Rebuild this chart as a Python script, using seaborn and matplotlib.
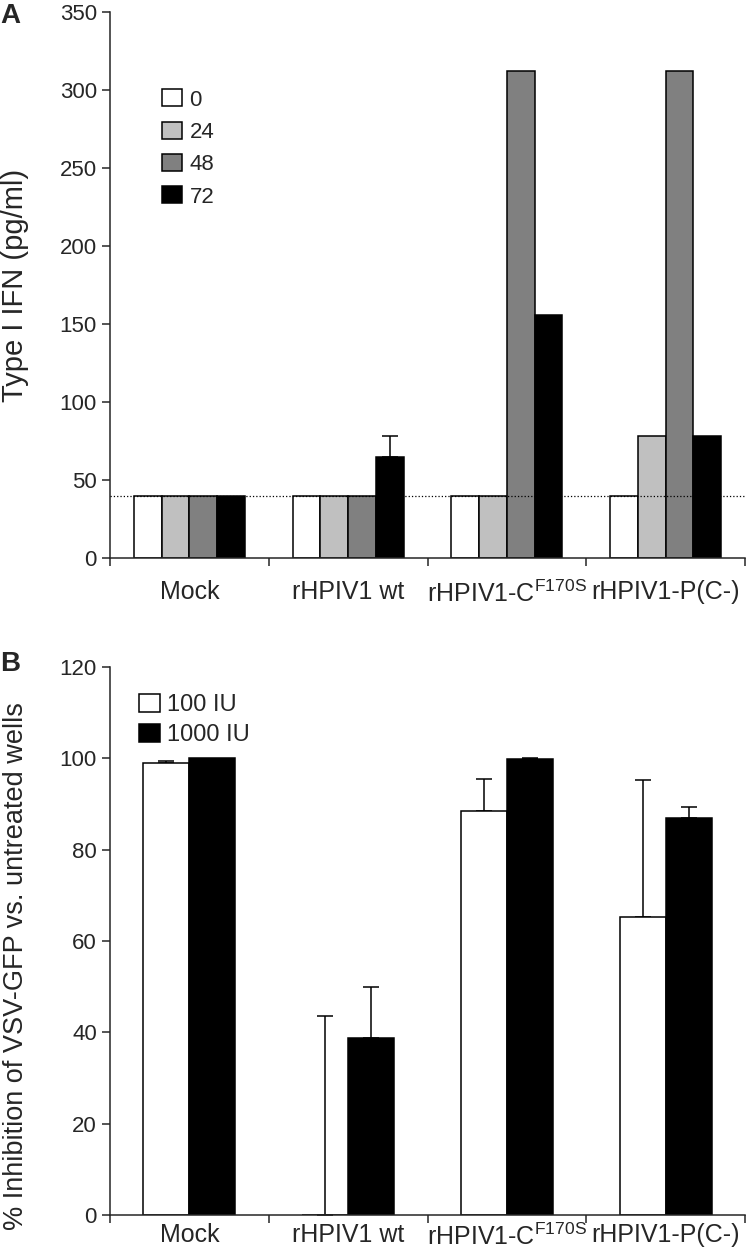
# ==============================
# Type I IFN (A) and VSV-GFP inhibition (B)
# ==============================
import numpy as np
import pandas as pd
import seaborn as sns
import matplotlib.pyplot as plt

sns.set_style("ticks")
plt.rcParams["font.family"] = ["Liberation Sans", "DejaVu Sans"]
plt.rcParams["mathtext.default"] = "regular"

# ------------------------------
# data
# ------------------------------
groups = ["Mock", "rHPIV1 wt", "rHPIV1-C$^{F170S}$", "rHPIV1-P(C-)"]

hours = ["0", "24", "48", "72"]
ifn_0 = [40, 40, 40, 40]
ifn_24 = [40, 40, 40, 78]
ifn_48 = [40, 40, 312, 312]
ifn_72 = [40, 65, 156, 78]
ifn_72_err = [0, 13, 0, 0]
ifn_limit = 40

doses = ["100 IU", "1000 IU"]
inhib_100 = [99.0, 0.0, 88.5, 65.3]
inhib_100_err = [0.5, 43.5, 7.0, 30.0]
inhib_1000 = [100.0, 38.8, 99.9, 87.0]
inhib_1000_err = [0.0, 11.2, 0.1, 2.3]

df_a = pd.DataFrame({
    "group": groups * 4,
    "hour": np.repeat(hours, len(groups)),
    "ifn": ifn_0 + ifn_24 + ifn_48 + ifn_72,
})
df_b = pd.DataFrame({
    "group": groups * 2,
    "dose": np.repeat(doses, len(groups)),
    "inhib": inhib_100 + inhib_1000,
})

fig = plt.figure(figsize=(7.5, 12.57), dpi=100)
axA = fig.add_axes([0.1467, 0.556, 0.8466, 0.4345])
axB = fig.add_axes([0.1467, 0.0335, 0.8466, 0.4359])


def add_err(ax, container, errs):
    for bar, e in zip(container, errs):
        if e <= 0:
            continue
        ax.errorbar(bar.get_x() + bar.get_width() / 2, bar.get_height(),
                    yerr=[[0], [e]], fmt="none", ecolor="black",
                    elinewidth=1.1, capsize=6, capthick=1.1, zorder=1)


def style_axis(ax, ymax, ystep, pad):
    ax.set_xlim(-0.5, len(groups) - 0.5)
    ax.set_ylim(0, ymax)
    ax.set_yticks(np.arange(0, ymax + 1, ystep))
    ax.set_xticks(range(len(groups)))
    ax.set_xticks(np.arange(-0.5, len(groups), 1), minor=True)
    ax.set_xticklabels(groups, fontsize=18)
    ax.tick_params(axis="x", which="major", length=0, pad=pad)
    ax.tick_params(axis="x", which="minor", length=6, width=1.1)
    ax.tick_params(axis="y", length=6, width=1.1, labelsize=16)
    ax.set_xlabel("")
    for s in ["left", "bottom"]:
        ax.spines[s].set_linewidth(1.1)
    sns.despine(ax=ax)


# ==============================
# PANEL A
# ==============================
sns.barplot(data=df_a, x="group", y="ifn", hue="hour",
            palette=["white", "#c0c0c0", "#808080", "black"],
            width=0.7, gap=0, edgecolor="black", linewidth=1.1,
            errorbar=None, ax=axA, zorder=2)
add_err(axA, axA.containers[3], ifn_72_err)
axA.axhline(ifn_limit, ls=":", lw=0.9, color="black", zorder=3, clip_on=False)
style_axis(axA, 350, 50, pad=16)
axA.set_ylabel("Type I IFN (pg/ml)", fontsize=21)
axA.yaxis.set_label_coords(-0.128, 0.5)
handles, labels = axA.get_legend_handles_labels()
axA.legend(handles, labels, loc="upper left", bbox_to_anchor=(0.05, 0.895),
           frameon=False, fontsize=16, handlelength=0.9, handleheight=0.8,
           handletextpad=0.35, labelspacing=0.5)

# ==============================
# PANEL B
# ==============================
sns.barplot(data=df_b, x="group", y="inhib", hue="dose",
            palette=["white", "black"],
            width=0.58, gap=0, edgecolor="black", linewidth=1.1,
            errorbar=None, ax=axB, zorder=2)
add_err(axB, axB.containers[0], inhib_100_err)
add_err(axB, axB.containers[1], inhib_1000_err)
style_axis(axB, 120, 20, pad=6)
axB.set_ylabel("% Inhibition of VSV-GFP vs. untreated wells", fontsize=19.5)
axB.yaxis.set_label_coords(-0.128, 0.455)
handles, labels = axB.get_legend_handles_labels()
axB.legend(handles, labels, loc="upper left", bbox_to_anchor=(0.012, 0.99),
           frameon=False, fontsize=17, handlelength=0.9, handleheight=0.8,
           handletextpad=0.3, labelspacing=0.35)

fig.text(0.0, 0.998, "A", fontsize=20, fontweight="bold", va="top")
fig.text(0.0, 0.482, "B", fontsize=20, fontweight="bold", va="top")

plt.savefig("out.png", dpi=100)
